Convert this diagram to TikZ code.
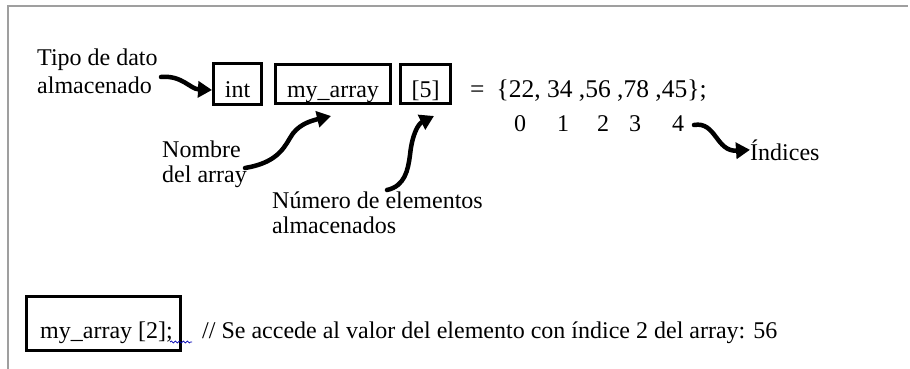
\documentclass[tikz,border=0pt]{standalone}
\usepackage{fontspec}
\setmainfont{Liberation Serif}
\usetikzlibrary{arrows.meta,decorations.pathmorphing}
\begin{document}
\begin{tikzpicture}[x=1pt,y=-1pt,
  every node/.style={font=\fontsize{24}{28}\selectfont, inner sep=0pt},
  box/.style={draw, line width=3pt, inner sep=0pt, text height=26pt, text depth=0pt},
  lbl/.style={anchor=base west},
  bigarrow/.style={line width=4.5pt, -{Triangle[length=14pt,width=16pt]}, line cap=round},
  frame/.style={draw=gray!75, line width=2pt},
  squiggle/.style={draw=blue!70!black, line width=0.7pt, decorate, decoration={snake, amplitude=1pt, segment length=4pt}}]
\useasboundingbox (0,0) rectangle (910,369);
\draw[frame] (8,369) -- (8,6) -- (908,6);

% top line boxes
\node[box, minimum width=48pt, minimum height=41pt] (int) at (237.5,84) {int};
\node[box, minimum width=115pt, minimum height=39pt] (arr) at (333,84) {my\_array};
\node[box, minimum width=50pt, minimum height=39pt] (five) at (425.5,84) {[5]};
\node[lbl, font=\fontsize{25.5}{28}\selectfont] (vals) at (470,97) {=\hspace{12pt}\{22, 34 ,56 ,78 ,45\};};
\node[lbl] (i0) at (514,131) {0};
\node[lbl] (i1) at (557,131) {1};
\node[lbl] (i2) at (597,131) {2};
\node[lbl] (i3) at (629,131) {3};
\node[lbl] (i4) at (672,131) {4};
\node[lbl] (ind) at (750,160) {Índices};

% labels
\node[lbl] (tipo1) at (37,66) {Tipo de dato};
\node[lbl] (tipo2) at (37,93) {almacenado};
\node[lbl] (nom1) at (162,157) {Nombre};
\node[lbl] (nom2) at (162,182) {del array};
\node[lbl] (num1) at (272,208) {Número de elementos};
\node[lbl] (num2) at (272,233) {almacenados};

% arrows
\coordinate (tipoS) at (161,77);
\coordinate (nomS) at (245,168);
\coordinate (nomE) at (331,116);
\coordinate (numS) at (387,190);
\coordinate (numE) at (434,116);
\coordinate (indS) at (694,125);
\draw[bigarrow] (tipoS) .. controls (182,75) and (190,89) .. ([yshift=-6pt]int.west);
\draw[bigarrow] (nomS) .. controls (275,163) and (283,150) .. (290,138) .. controls (297,125) and (310,121) .. (nomE);
\draw[bigarrow] (numS) .. controls (405,186) and (408,170) .. (410,155) .. controls (412,135) and (418,124) .. (numE);
\draw[bigarrow] (indS) .. controls (716,121) and (716,152) .. (ind.west);

% bottom line
\node[draw, line width=3pt, minimum width=154pt, minimum height=54pt] (acc) at (103.5,323.5) {};
\node[lbl] (acctxt) at (40,338) {my\_array [2];};
\draw[squiggle] ([xshift=-3pt,yshift=-4pt]acctxt.base east) -- ++(22,0);
\node[lbl] (cmt) at (202,338) {// Se accede al valor del elemento con índice 2 del array: 56};
\end{tikzpicture}
\end{document}
